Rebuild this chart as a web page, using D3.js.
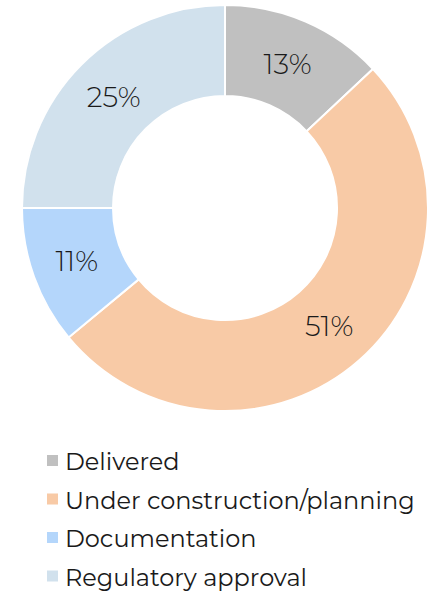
<!DOCTYPE html>
<html>
<head>
	<title>donut with d3</title>
	<style>
		body { margin: 0; background: #fff; }
		svg text { font-family: Montserrat, "Open Sans", Lato, sans-serif; fill: #1a1a1a; }
	</style>
</head>
<body>
<div class="svg-donut"></div>
<script src="https://cdn.jsdelivr.net/npm/d3@7"></script>
<script>
	// original data
	let categories = ["Delivered", "Under construction/planning", "Documentation", "Regulatory approval"];
	let shares = [13, 51, 11, 25];
	let labels = ["13%", "51%", "11%", "25%"];
	let colors = ["#c0c0c0", "#f8caa6", "#b4d6fb", "#d1e1ed"];

	window.onload = function(){
		showDonut();
	}

	function showDonut(){
		// canvas setting
		let width = 429;
		let height = 591;
		let cx = 225, cy = 208;
		let outer = 203, inner = 112;

		let svg = d3.select(".svg-donut").append("svg")
			.attr("width", width)
			.attr("height", height);

		let color = d3.scaleOrdinal().domain(categories).range(colors);

		let pie = d3.pie().sort(null).value((d, i) => shares[i]);
		let arcs = pie(categories);
		let arc = d3.arc().innerRadius(inner).outerRadius(outer);

		let g = svg.append("g")
			.attr("transform", "translate(" + cx + "," + cy + ")");

		g.selectAll("path")
			.data(arcs)
			.enter()
			.append("path")
			.attr("d", arc)
			.attr("fill", d => color(d.data))
			.attr("stroke", "#fff")
			.attr("stroke-width", 2);

		g.selectAll("text")
			.data(arcs)
			.enter()
			.append("text")
			.attr("transform", d => "translate(" + arc.centroid(d) + ")")
			.attr("text-anchor", "middle")
			.attr("dy", "0.36em")
			.style("font-size", "28px")
			.style("font-weight", 300)
			.text(d => labels[d.index]);

		// legend
		let legendY = d3.scaleBand().domain(categories).range([444, 598]);
		let legend = svg.append("g").selectAll("g")
			.data(categories)
			.enter()
			.append("g")
			.attr("transform", d => "translate(47," + legendY(d) + ")");

		legend.append("rect")
			.attr("x", 0)
			.attr("y", 11)
			.attr("width", 11)
			.attr("height", 11)
			.attr("fill", d => color(d));

		legend.append("text")
			.attr("x", 18)
			.attr("y", 26)
			.style("font-size", "24px")
			.text(d => d);
	}
</script>
</body>
</html>
